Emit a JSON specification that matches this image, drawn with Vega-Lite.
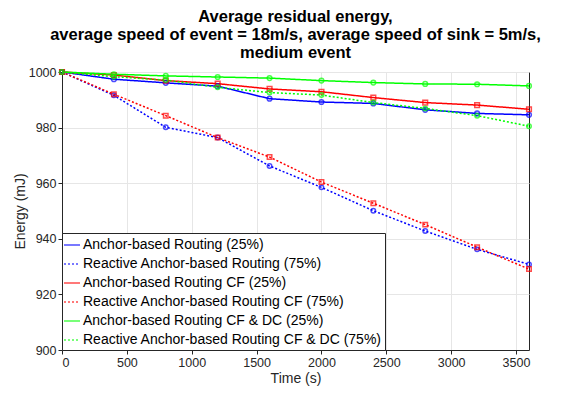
{
  "$schema": "https://vega.github.io/schema/vega-lite/v6.json",
  "width": 467,
  "height": 278,
  "autosize": "none",
  "padding": {"left": 62, "top": 72, "right": 34, "bottom": 43},
  "background": "white",
  "config": {
    "font": "Liberation Sans",
    "view": {"stroke": "#262626", "strokeWidth": 1},
    "axis": {
      "labelFont": "Liberation Sans",
      "titleFont": "Liberation Sans",
      "labelFontSize": 12.5,
      "titleFontSize": 14,
      "titleFontWeight": "normal",
      "labelColor": "#262626",
      "titleColor": "#262626",
      "domainColor": "#262626",
      "tickColor": "#262626",
      "gridColor": "#e6e6e6",
      "gridOpacity": 1
    }
  },
  "title": {
    "text": ["Average residual energy,", "average speed of event = 18m/s, average speed of sink = 5m/s,", "medium event"],
    "fontSize": 16.5,
    "fontWeight": "bold",
    "font": "Liberation Sans",
    "color": "#000000",
    "anchor": "middle",
    "lineHeight": 18,
    "offset": 5
  },
  "data": {
    "values": [
      {"s": "Anchor-based Routing (25%)", "t": 0, "e": 1000},
      {"s": "Anchor-based Routing (25%)", "t": 400, "e": 997.4},
      {"s": "Anchor-based Routing (25%)", "t": 800, "e": 996.1},
      {"s": "Anchor-based Routing (25%)", "t": 1200, "e": 994.9},
      {"s": "Anchor-based Routing (25%)", "t": 1600, "e": 990.4},
      {"s": "Anchor-based Routing (25%)", "t": 2000, "e": 989.2},
      {"s": "Anchor-based Routing (25%)", "t": 2400, "e": 988.7},
      {"s": "Anchor-based Routing (25%)", "t": 2800, "e": 986.4},
      {"s": "Anchor-based Routing (25%)", "t": 3200, "e": 985.1},
      {"s": "Anchor-based Routing (25%)", "t": 3600, "e": 984.6},
      {"s": "Reactive Anchor-based Routing (75%)", "t": 0, "e": 1000},
      {"s": "Reactive Anchor-based Routing (75%)", "t": 400, "e": 991.6},
      {"s": "Reactive Anchor-based Routing (75%)", "t": 800, "e": 980.1},
      {"s": "Reactive Anchor-based Routing (75%)", "t": 1200, "e": 976.4},
      {"s": "Reactive Anchor-based Routing (75%)", "t": 1600, "e": 966.2},
      {"s": "Reactive Anchor-based Routing (75%)", "t": 2000, "e": 958.5},
      {"s": "Reactive Anchor-based Routing (75%)", "t": 2400, "e": 950.1},
      {"s": "Reactive Anchor-based Routing (75%)", "t": 2800, "e": 942.8},
      {"s": "Reactive Anchor-based Routing (75%)", "t": 3200, "e": 936.2},
      {"s": "Reactive Anchor-based Routing (75%)", "t": 3600, "e": 930.8},
      {"s": "Anchor-based Routing CF (25%)", "t": 0, "e": 1000},
      {"s": "Anchor-based Routing CF (25%)", "t": 400, "e": 998.9},
      {"s": "Anchor-based Routing CF (25%)", "t": 800, "e": 996.9},
      {"s": "Anchor-based Routing CF (25%)", "t": 1200, "e": 995.8},
      {"s": "Anchor-based Routing CF (25%)", "t": 1600, "e": 993.9},
      {"s": "Anchor-based Routing CF (25%)", "t": 2000, "e": 992.9},
      {"s": "Anchor-based Routing CF (25%)", "t": 2400, "e": 990.8},
      {"s": "Anchor-based Routing CF (25%)", "t": 2800, "e": 989.0},
      {"s": "Anchor-based Routing CF (25%)", "t": 3200, "e": 988.1},
      {"s": "Anchor-based Routing CF (25%)", "t": 3600, "e": 986.6},
      {"s": "Reactive Anchor-based Routing CF (75%)", "t": 0, "e": 1000},
      {"s": "Reactive Anchor-based Routing CF (75%)", "t": 400, "e": 992.0},
      {"s": "Reactive Anchor-based Routing CF (75%)", "t": 800, "e": 984.3},
      {"s": "Reactive Anchor-based Routing CF (75%)", "t": 1200, "e": 976.4},
      {"s": "Reactive Anchor-based Routing CF (75%)", "t": 1600, "e": 969.4},
      {"s": "Reactive Anchor-based Routing CF (75%)", "t": 2000, "e": 960.4},
      {"s": "Reactive Anchor-based Routing CF (75%)", "t": 2400, "e": 952.8},
      {"s": "Reactive Anchor-based Routing CF (75%)", "t": 2800, "e": 945.1},
      {"s": "Reactive Anchor-based Routing CF (75%)", "t": 3200, "e": 937.0},
      {"s": "Reactive Anchor-based Routing CF (75%)", "t": 3600, "e": 929.1},
      {"s": "Anchor-based Routing CF & DC (25%)", "t": 0, "e": 1000},
      {"s": "Anchor-based Routing CF & DC (25%)", "t": 400, "e": 999.2},
      {"s": "Anchor-based Routing CF & DC (25%)", "t": 800, "e": 998.6},
      {"s": "Anchor-based Routing CF & DC (25%)", "t": 1200, "e": 998.2},
      {"s": "Anchor-based Routing CF & DC (25%)", "t": 1600, "e": 997.8},
      {"s": "Anchor-based Routing CF & DC (25%)", "t": 2000, "e": 996.9},
      {"s": "Anchor-based Routing CF & DC (25%)", "t": 2400, "e": 996.2},
      {"s": "Anchor-based Routing CF & DC (25%)", "t": 2800, "e": 995.7},
      {"s": "Anchor-based Routing CF & DC (25%)", "t": 3200, "e": 995.6},
      {"s": "Anchor-based Routing CF & DC (25%)", "t": 3600, "e": 995.0},
      {"s": "Reactive Anchor-based Routing CF & DC (75%)", "t": 0, "e": 1000},
      {"s": "Reactive Anchor-based Routing CF & DC (75%)", "t": 400, "e": 998.3},
      {"s": "Reactive Anchor-based Routing CF & DC (75%)", "t": 800, "e": 997.1},
      {"s": "Reactive Anchor-based Routing CF & DC (75%)", "t": 1200, "e": 994.5},
      {"s": "Reactive Anchor-based Routing CF & DC (75%)", "t": 1600, "e": 992.6},
      {"s": "Reactive Anchor-based Routing CF & DC (75%)", "t": 2000, "e": 991.7},
      {"s": "Reactive Anchor-based Routing CF & DC (75%)", "t": 2400, "e": 989.0},
      {"s": "Reactive Anchor-based Routing CF & DC (75%)", "t": 2800, "e": 986.9},
      {"s": "Reactive Anchor-based Routing CF & DC (75%)", "t": 3200, "e": 984.3},
      {"s": "Reactive Anchor-based Routing CF & DC (75%)", "t": 3600, "e": 980.5}
    ]
  },
  "encoding": {
    "x": {"field": "t", "type": "quantitative", "title": "Time (s)",
      "scale": {"domain": [0, 3600], "nice": false},
      "axis": {"values": [0, 500, 1000, 1500, 2000, 2500, 3000, 3500], "format": "d", "tickSize": 4, "labelPadding": 2, "titlePadding": 3}},
    "y": {"field": "e", "type": "quantitative", "title": "Energy (mJ)",
      "scale": {"domain": [900, 1000], "nice": false},
      "axis": {"values": [900, 920, 940, 960, 980, 1000], "format": "d", "tickSize": 4, "labelPadding": 2, "titlePadding": 1}},
    "color": {"field": "s", "type": "nominal",
      "scale": {
        "domain": ["Anchor-based Routing (25%)", "Reactive Anchor-based Routing (75%)", "Anchor-based Routing CF (25%)", "Reactive Anchor-based Routing CF (75%)", "Anchor-based Routing CF & DC (25%)", "Reactive Anchor-based Routing CF & DC (75%)"],
        "range": ["#0000ff", "#0000ff", "#ff0000", "#ff0000", "#00ff00", "#00ff00"]
      }}
  },
  "layer": [
    {
      "mark": {"type": "line", "strokeWidth": 1.5},
      "encoding": {
        "strokeDash": {"field": "s", "type": "nominal",
          "scale": {
            "domain": ["Anchor-based Routing (25%)", "Reactive Anchor-based Routing (75%)", "Anchor-based Routing CF (25%)", "Reactive Anchor-based Routing CF (75%)", "Anchor-based Routing CF & DC (25%)", "Reactive Anchor-based Routing CF & DC (75%)"],
            "range": [[1, 0], [2, 2], [1, 0], [2, 2], [1, 0], [2, 2]]
          }},
        "color": {"field": "s", "type": "nominal",
          "legend": {
            "title": null,
            "orient": "bottom-left",
            "offset": 0,
            "symbolType": "stroke",
            "symbolSize": 256,
            "symbolStrokeWidth": 1.5,
            "labelFont": "Liberation Sans",
            "labelFontSize": 14,
            "labelColor": "#000000",
            "labelLimit": 400,
            "labelOffset": 2,
            "rowPadding": 3,
            "strokeColor": "#262626",
            "fillColor": "white",
            "padding": 3,
            "symbolOffset": -2
          }}
      }
    },
    {
      "transform": [{"filter": "indexof(datum.s, 'Reactive') < 0"}],
      "mark": {"type": "point", "filled": false, "size": 22, "strokeWidth": 1.5},
      "encoding": {
        "shape": {"field": "s", "type": "nominal", "legend": null,
          "scale": {
            "domain": ["Anchor-based Routing (25%)", "Anchor-based Routing CF (25%)", "Anchor-based Routing CF & DC (25%)"],
            "range": ["circle", "square", "circle"]
          }}
      }
    },
    {
      "transform": [{"filter": "indexof(datum.s, 'Reactive') >= 0"}],
      "mark": {"type": "point", "filled": false, "size": 20, "strokeWidth": 1.5},
      "encoding": {
        "shape": {"field": "s", "type": "nominal", "legend": null,
          "scale": {
            "domain": ["Reactive Anchor-based Routing (75%)", "Reactive Anchor-based Routing CF (75%)", "Reactive Anchor-based Routing CF & DC (75%)"],
            "range": ["square", "diamond", "circle"]
          }}
      }
    }
  ]
}
